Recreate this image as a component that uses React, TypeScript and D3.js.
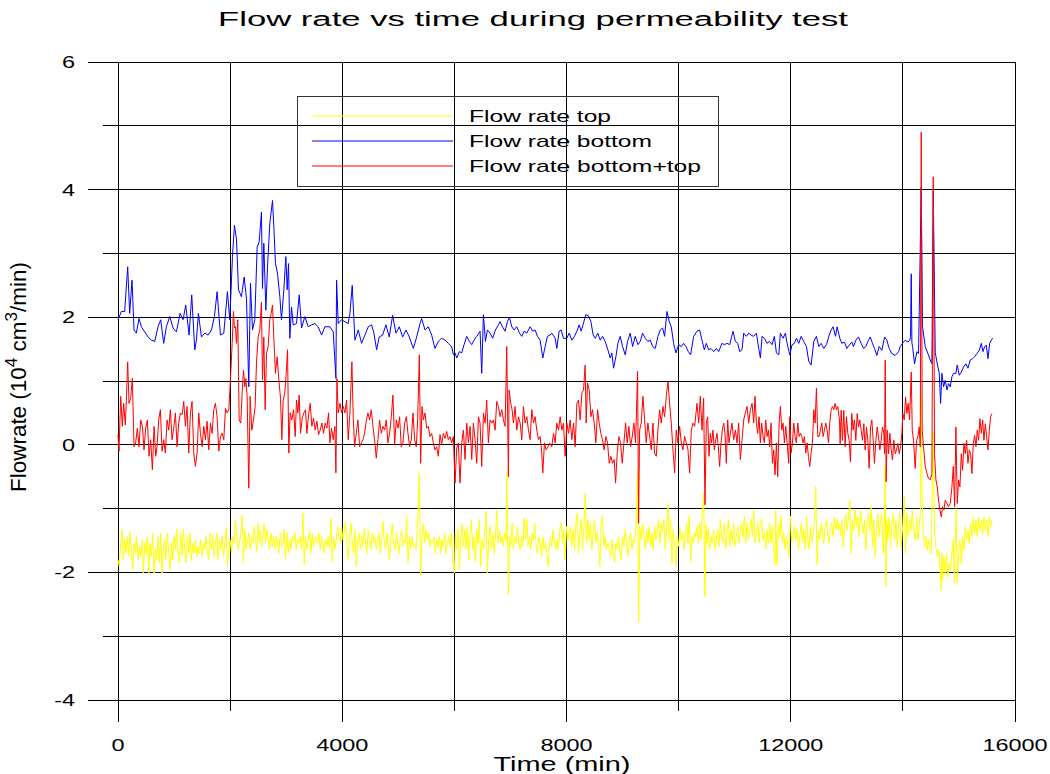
import React from "react";
import * as d3 from "d3";

// ---------- data: [time (min), flow rate (10^4 cm^3/min)] ----------
const topFlow: [number, number][] = [
[0,-1.80],[24,-1.91],[48,-1.54],[71,-1.33],[95,-1.80],[119,-1.49],[143,-1.70],[167,-1.44],[190,-1.75],[214,-1.36],[238,-1.64],[262,-1.96],[286,-1.54],[310,-1.70],[333,-1.44],[357,-1.80],[381,-1.59],[405,-1.75],[429,-1.49],[452,-2.01],[476,-1.54],[500,-1.70],[524,-1.44],[548,-2.01],[571,-1.54],[595,-1.75],[619,-1.38],[643,-2.01],[667,-1.64],[690,-1.80],[714,-1.44],[738,-1.85],[762,-1.38],[786,-2.01],[809,-1.64],[833,-1.49],[857,-1.80],[881,-1.38],[905,-1.70],[929,-1.96],[952,-1.54],[976,-1.80],[1000,-1.44],[1024,-1.64],[1048,-1.31],[1071,-1.70],[1095,-1.85],[1119,-1.38],[1143,-1.75],[1167,-1.33],[1190,-1.64],[1214,-1.85],[1238,-1.44],[1262,-1.70],[1286,-1.38],[1309,-1.80],[1333,-1.54],[1357,-1.70],[1381,-1.49],[1405,-1.75],[1429,-1.59],[1452,-1.70],[1476,-1.49],[1500,-1.75],[1524,-1.54],[1548,-1.64],[1571,-1.44],[1595,-1.70],[1619,-1.80],[1643,-1.38],[1667,-1.64],[1690,-1.44],[1714,-1.75],[1738,-1.54],[1762,-1.38],[1786,-1.80],[1809,-1.49],[1833,-1.64],[1857,-1.44],[1881,-1.75],[1905,-1.54],[1929,-1.31],[1952,-1.91],[1976,-1.64],[2000,-1.49],[2024,-1.70],[2048,-1.44],[2071,-1.54],[2095,-1.17],[2119,-1.44],[2143,-1.64],[2167,-1.54],[2190,-1.38],[2214,-1.10],[2238,-1.85],[2262,-1.33],[2286,-1.64],[2309,-1.49],[2333,-1.38],[2357,-1.64],[2381,-1.44],[2405,-1.54],[2429,-1.28],[2452,-1.49],[2476,-1.67],[2500,-1.23],[2524,-1.54],
[2536,-1.33],[2560,-1.59],[2583,-1.44],[2607,-1.23],[2631,-1.54],[2655,-1.33],[2679,-1.49],[2702,-1.64],[2726,-1.38],[2750,-1.59],[2774,-1.44],[2798,-1.64],[2821,-1.44],[2845,-1.54],[2869,-1.70],[2893,-1.38],[2917,-1.59],[2941,-1.54],[2964,-1.33],[2988,-1.80],[3012,-1.38],[3036,-1.70],[3060,-1.49],[3083,-1.64],[3107,-1.44],[3131,-1.54],[3155,-1.38],[3179,-1.64],[3202,-1.49],[3226,-1.54],[3250,-1.44],[3274,-1.64],[3298,-1.07],[3322,-1.88],[3345,-1.44],[3369,-1.64],[3393,-1.49],[3417,-1.33],[3441,-1.70],[3464,-1.38],[3488,-1.59],[3512,-1.49],[3536,-1.44],[3560,-1.54],[3583,-1.38],[3607,-1.64],[3631,-1.44],[3655,-1.54],[3679,-1.70],[3702,-1.49],[3726,-1.59],[3750,-1.44],[3774,-1.62],[3798,-1.15],[3821,-1.83],[3845,-1.44],[3869,-1.64],[3893,-1.49],[3917,-1.28],[3941,-1.44],[3964,-1.54],[3988,-1.28],[4012,-1.49],[4036,-1.38],[4060,-1.20],[4083,-1.54],[4107,-1.80],[4131,-1.44],[4155,-1.23],[4179,-1.54],[4202,-1.70],[4226,-1.33],[4250,-1.91],[4274,-1.49],[4298,-1.38],[4321,-1.64],[4345,-1.44],[4369,-1.59],[4393,-1.31],[4417,-1.54],[4440,-1.70],[4464,-1.33],[4488,-1.49],[4512,-1.64],[4536,-1.38],[4560,-1.54],[4583,-1.44],[4607,-1.64],[4631,-1.54],[4655,-1.38],[4679,-1.70],[4702,-1.49],[4726,-1.20],[4750,-1.54],[4774,-1.64],[4798,-1.38],[4821,-1.59],[4845,-1.80],[4869,-1.44],[4893,-1.23],[4917,-1.54],[4941,-1.64],[4964,-1.38],[4988,-1.54],[5012,-1.70],[5036,-1.44],[5060,-1.33],[5083,-1.59],[5107,-1.49],
[5125,-1.54],[5149,-1.12],[5173,-1.85],[5196,-1.44],[5220,-1.64],[5244,-1.44],[5268,-1.59],[5292,-1.54],[5315,-1.64],[5339,-1.33],[5375,-0.44],[5398,-2.04],[5422,-1.44],[5446,-1.23],[5470,-1.54],[5494,-1.33],[5518,-1.49],[5542,-1.38],[5565,-1.59],[5589,-1.49],[5613,-1.54],[5637,-1.44],[5661,-1.70],[5684,-1.49],[5708,-1.59],[5732,-1.44],[5756,-1.70],[5780,-1.49],[5803,-1.59],[5827,-1.38],[5851,-1.70],[5875,-1.54],[5899,-1.44],[5923,-1.59],[5946,-1.38],[5970,-1.80],[6000,-2.01],[6018,-1.38],[6042,-1.64],[6065,-1.33],[6089,-1.96],[6113,-1.44],[6137,-1.23],[6161,-1.59],[6185,-1.33],[6208,-1.64],[6232,-1.28],[6256,-1.80],[6280,-1.38],[6304,-1.17],[6327,-1.64],[6351,-1.44],[6375,-1.85],[6399,-1.33],[6423,-1.54],[6446,-1.17],[6470,-1.91],[6494,-1.49],[6518,-1.64],[6542,-1.38],[6565,-1.04],[6589,-2.01],[6613,-1.49],[6637,-1.28],[6661,-1.64],[6684,-1.38],[6708,-1.70],[6732,-1.44],[6756,-1.02],[6780,-1.54],[6804,-1.33],[6827,-1.54],[6851,-1.44],[6875,-1.59],[6899,-1.38],[6923,-1.49],[6934,-0.42],[6964,-2.35],[6982,-1.44],[7006,-1.59],[7030,-1.23],[7054,-1.64],[7077,-1.44],[7101,-1.54],[7125,-1.28],[7149,-1.54],[7173,-1.64],[7196,-1.44],[7220,-1.59],[7244,-1.15],[7268,-1.49],[7292,-1.17],[7315,-1.59],[7339,-1.44],[7363,-1.64],[7387,-1.38],[7411,-1.49],[7435,-1.23],[7458,-1.59],[7482,-1.70],[7506,-1.44],[7530,-1.54],[7554,-1.75],[7577,-1.44],[7601,-1.64],[7625,-1.54],[7649,-1.70],[7673,-1.91],[7696,-1.54],
[7714,-1.44],[7738,-1.59],[7762,-1.33],[7786,-1.54],[7809,-1.64],[7833,-1.49],[7857,-1.64],[7881,-1.33],[7905,-1.23],[7929,-1.54],[7952,-1.33],[7976,-1.80],[8000,-1.28],[8024,-1.49],[8048,-1.38],[8071,-1.28],[8095,-1.59],[8119,-1.33],[8143,-1.64],[8167,-1.23],[8190,-1.07],[8214,-1.70],[8238,-1.38],[8262,-1.17],[8286,-1.64],[8309,-1.33],[8333,-0.76],[8357,-1.54],[8381,-1.17],[8405,-1.49],[8428,-1.23],[8452,-1.64],[8476,-1.33],[8500,-1.17],[8524,-1.54],[8548,-1.38],[8571,-1.59],[8595,-1.91],[8619,-1.23],[8643,-1.12],[8667,-1.59],[8690,-1.44],[8714,-1.64],[8738,-1.54],[8762,-1.64],[8786,-1.75],[8809,-1.49],[8833,-1.70],[8857,-1.85],[8881,-1.54],[8905,-1.64],[8928,-1.44],[8952,-1.70],[8976,-1.80],[9000,-1.44],[9024,-1.59],[9047,-1.33],[9071,-1.54],[9095,-1.75],[9119,-1.49],[9143,-1.38],[9167,-1.64],[9190,-1.49],[9214,-1.54],[9238,-1.33],[9268,-0.39],[9286,-2.77],[9309,-1.28],[9333,-1.49],[9357,-1.23],[9381,-1.44],[9405,-1.64],[9428,-1.33],[9452,-1.54],[9476,-1.28],[9500,-1.59],[9524,-1.38],[9547,-1.64],[9571,-1.28],[9595,-1.49],[9619,-1.33],[9643,-1.17],[9666,-1.54],[9690,-1.23],[9714,-1.38],[9738,-1.17],[9762,-1.64],[9785,-1.33],[9809,-0.94],[9833,-1.49],[9857,-1.17],[9881,-1.85],[9905,-1.33],[9928,-1.54],[9952,-1.91],[9976,-1.44],[10000,-1.59],[10024,-1.28],[10047,-1.49],[10071,-1.38],[10095,-1.64],[10119,-1.44],[10143,-1.23],[10166,-1.54],[10190,-1.10],[10214,-1.83],[10238,-1.44],[10262,-1.54],[10286,-1.38],
[10304,-1.44],[10328,-1.28],[10351,-1.54],[10375,-1.23],[10399,-1.49],[10423,-1.02],[10447,-0.76],[10470,-2.38],[10488,-1.23],[10506,-1.54],[10530,-1.33],[10554,-1.64],[10578,-1.44],[10601,-1.54],[10625,-1.33],[10649,-1.64],[10673,-1.49],[10697,-1.33],[10720,-1.59],[10744,-1.17],[10768,-1.44],[10792,-1.54],[10816,-1.23],[10839,-1.64],[10863,-1.38],[10887,-1.17],[10911,-1.59],[10935,-1.33],[10958,-1.54],[10982,-1.23],[11006,-1.59],[11030,-1.44],[11054,-1.28],[11077,-1.54],[11101,-1.38],[11125,-1.23],[11149,-1.44],[11173,-1.12],[11197,-1.54],[11220,-1.23],[11244,-1.49],[11268,-1.33],[11292,-1.17],[11316,-1.44],[11339,-1.02],[11363,-1.54],[11387,-1.38],[11411,-1.23],[11435,-1.54],[11458,-1.28],[11482,-1.15],[11506,-1.49],[11530,-1.38],[11554,-1.64],[11577,-1.33],[11601,-1.54],[11625,-1.23],[11649,-1.54],[11673,-1.28],[11696,-1.64],[11720,-1.88],[11732,-1.02],[11756,-1.88],[11780,-1.23],[11804,-1.44],[11827,-1.12],[11851,-1.54],[11875,-1.38],[11899,-1.64],[11923,-1.44],[11946,-1.59],[11970,-1.75],[11994,-1.12],[12018,-1.54],[12042,-1.44],[12065,-1.28],[12089,-1.49],[12113,-1.33],[12137,-1.64],[12161,-1.44],[12185,-1.23],[12208,-1.54],[12232,-1.33],[12256,-1.64],[12280,-1.12],[12304,-1.49],[12327,-1.64],[12351,-1.28],[12375,-1.54],[12399,-1.38],[12423,-1.23],[12446,-0.65],[12470,-1.88],[12494,-1.33],[12518,-1.49],[12542,-1.23],[12565,-1.44],[12589,-1.54],[12613,-1.28],[12637,-1.17],[12661,-1.44],[12684,-1.54],[12708,-1.28],[12732,-1.23],[12756,-1.44],[12780,-1.12],[12804,-1.33],[12827,-1.17],[12851,-1.33],[12875,-1.23],
[12887,-1.44],[12911,-1.18],[12935,-1.60],[12958,-1.23],[12982,-1.08],[13006,-1.34],[13030,-1.13],[13054,-0.87],[13077,-1.70],[13101,-1.18],[13125,-1.34],[13149,-1.02],[13173,-1.28],[13196,-1.13],[13220,-1.44],[13244,-1.02],[13268,-1.23],[13292,-1.39],[13316,-1.18],[13339,-1.65],[13363,-1.23],[13387,-1.08],[13411,-1.34],[13435,-0.97],[13458,-1.60],[13482,-1.18],[13506,-1.75],[13530,-1.28],[13554,-1.08],[13577,-1.44],[13601,-1.18],[13625,-1.08],[13649,-1.70],[13673,-1.13],[13685,-0.34],[13696,-2.22],[13714,-1.18],[13732,-1.49],[13756,-1.13],[13780,-1.60],[13804,-1.23],[13827,-1.08],[13851,-1.49],[13875,-1.18],[13899,-1.60],[13923,-1.28],[13946,-1.08],[13970,-1.60],[14000,-1.23],[14024,-0.81],[14048,-1.70],[14071,-1.08],[14095,-1.44],[14119,-1.18],[14143,-1.34],[14167,-1.02],[14190,-1.28],[14220,-1.49],[14244,-1.13],[14268,-1.49],[14292,-1.28],[14310,-1.08],[14327,0.83],[14345,-0.92],[14363,-1.34],[14387,-1.60],[14411,-1.44],[14435,-1.65],[14458,-1.49],[14482,-1.65],[14506,-1.70],[14530,-0.45],[14542,0.19],[14565,-1.39],[14589,-1.60],[14613,-1.75],[14637,-1.65],[14661,-1.91],[14685,-2.28],[14696,-1.70],[14708,-2.12],[14732,-1.75],[14756,-2.02],[14780,-1.70],[14804,-2.07],[14827,-1.86],[14851,-1.96],[14875,-1.70],[14899,-1.49],[14917,-2.17],[14934,-1.60],[14952,-1.00],[14970,-2.17],[14994,-1.70],[15018,-1.49],[15042,-1.86],[15065,-1.44],[15089,-1.65],[15113,-1.28],[15137,-1.49],[15161,-1.34],[15185,-1.55],[15208,-1.23],[15232,-1.44],[15256,-1.13],[15280,-1.39],[15304,-1.18],[15327,-1.44],[15351,-1.13],[15375,-1.34],[15399,-1.18],[15423,-1.39],[15446,-1.13],[15470,-1.34],[15494,-1.18],[15518,-1.44],[15542,-1.13],[15565,-1.28],[15589,-1.18]
];

const bottomFlow: [number, number][] = [
[0,1.96],[60,2.09],[119,2.09],[173,2.79],[208,2.06],[250,2.58],[286,1.80],[327,1.75],[375,1.98],[417,1.85],[476,1.77],[536,1.69],[595,1.64],[655,1.62],[714,1.85],[762,1.96],[815,1.59],[863,1.85],[923,2.01],[982,1.83],[1042,1.77],[1107,2.06],[1161,1.96],[1208,2.19],[1268,1.72],[1315,2.35],[1369,1.49],[1399,1.64],[1434,2.06],[1488,1.69],[1548,1.75],[1607,1.72],[1667,1.80],[1720,2.01],[1768,2.40],[1827,1.72],[1887,1.75],[1952,2.40],[1994,1.96],[2042,2.95],[2077,3.44],[2113,3.23],[2149,2.43],[2202,2.32],[2250,2.63],[2292,2.29],[2333,0.91],[2363,2.53],[2399,1.80],[2440,1.96],[2482,3.10],[2518,3.18],[2559,3.65],[2577,2.45],[2601,3.16],[2637,2.11],[2667,2.79],[2708,3.47],[2756,3.83],[2780,3.42],[2809,2.84],[2845,2.69],[2887,2.32],[2916,1.96],[2958,2.43],[2994,2.95],[3018,2.43],[3042,2.84],[3065,1.67],[3095,2.16],[3125,1.88],[3184,1.90],[3232,2.35],[3274,1.83],[3333,2.01],[3393,1.85],[3452,1.88],[3512,1.90],[3571,1.85],[3631,1.72],[3690,1.85],[3780,1.85],[3839,1.77],[3887,1.04],[3899,2.58],[3928,1.90],[3988,1.96],[4047,1.93],[4107,1.90],[4137,2.06],[4178,2.50],[4226,1.64],[4285,1.80],[4345,1.59],[4404,1.72],[4464,1.85],[4524,1.88],[4565,1.75],[4613,1.49],[4660,1.69],[4720,1.72],[4779,1.88],[4839,1.69],[4898,2.03],[4958,1.75],[5017,1.85],[5077,1.69],[5137,1.80],[5196,1.69],[5268,1.51],[5327,1.69],[5387,1.90],[5416,1.98],[5476,1.80],[5535,1.85],[5595,1.72],[5654,1.51],[5714,1.62],[5773,1.67],[5833,1.64],[5893,1.59],
[5911,1.57],[5952,1.54],[5982,1.41],[6012,1.44],[6042,1.36],[6089,1.46],[6131,1.44],[6173,1.57],[6220,1.70],[6268,1.62],[6310,1.57],[6351,1.64],[6399,1.70],[6458,1.78],[6488,1.12],[6518,2.04],[6554,1.62],[6589,1.80],[6637,1.75],[6684,1.67],[6732,1.80],[6786,1.88],[6815,1.93],[6857,1.85],[6905,1.78],[6946,1.93],[6982,2.00],[7024,1.85],[7065,1.80],[7113,1.85],[7161,1.75],[7202,1.70],[7244,1.78],[7292,1.75],[7351,1.85],[7399,1.78],[7440,1.80],[7482,1.70],[7530,1.64],[7577,1.36],[7619,1.54],[7661,1.70],[7708,1.72],
[7738,1.75],[7798,1.67],[7827,1.51],[7869,1.78],[7905,1.80],[7946,1.67],[8006,1.67],[8048,1.75],[8095,1.64],[8143,1.70],[8185,1.78],[8226,1.88],[8262,1.78],[8304,1.91],[8345,2.04],[8393,2.02],[8435,1.93],[8476,1.72],[8512,1.67],[8560,1.75],[8601,1.64],[8643,1.70],[8690,1.62],[8738,1.49],[8780,1.36],[8809,1.44],[8839,1.20],[8881,1.38],[8917,1.59],[8958,1.70],[9000,1.54],[9048,1.41],[9089,1.62],[9137,1.75],[9179,1.54],[9226,1.70],[9274,1.57],[9315,1.62],[9357,1.75],[9405,1.67],[9452,1.62],[9494,1.64],[9536,1.54],[9583,1.51],[9631,1.70],[9673,1.80],[9714,1.83],[9750,1.70],[9792,2.09],[9833,1.93],[9869,1.85],[9911,1.59],[9952,1.44],[10000,1.57],[10048,1.54],[10089,1.59],[10131,1.54],[10173,1.46],[10214,1.41],[10268,1.70],
[10328,1.78],[10375,1.80],[10417,1.64],[10458,1.49],[10494,1.59],[10536,1.49],[10577,1.51],[10625,1.46],[10673,1.51],[10714,1.46],[10774,1.59],[10816,1.57],[10863,1.59],[10911,1.57],[10970,1.78],[11012,1.62],[11054,1.59],[11089,1.46],[11131,1.49],[11161,1.75],[11208,1.70],[11250,1.75],[11292,1.72],[11339,1.70],[11387,1.75],[11429,1.51],[11458,1.36],[11488,1.70],[11530,1.67],[11577,1.59],[11619,1.62],[11667,1.57],[11708,1.70],[11744,1.44],[11786,1.41],[11815,1.75],[11863,1.67],[11905,1.75],[11935,1.59],[11982,1.41],[12024,1.57],[12065,1.59],[12101,1.67],[12143,1.59],[12185,1.70],[12232,1.62],[12280,1.54],[12321,1.31],[12363,1.25],[12411,1.62],[12458,1.70],[12500,1.54],[12542,1.59],[12589,1.51],[12637,1.57],[12679,1.70],[12720,1.80],[12756,1.85],[12798,1.70],[12827,1.85],[12875,1.67],
[12911,1.59],[12958,1.61],[13000,1.51],[13042,1.56],[13089,1.61],[13119,1.54],[13161,1.64],[13208,1.69],[13256,1.59],[13298,1.51],[13339,1.54],[13387,1.64],[13417,1.69],[13458,1.59],[13494,1.51],[13536,1.40],[13577,1.54],[13625,1.48],[13673,1.69],[13714,1.64],[13756,1.51],[13804,1.43],[13863,1.40],[13923,1.46],[13952,1.54],[13994,1.59],[14042,1.64],[14089,1.61],[14125,1.64],[14137,1.70],[14149,2.68],[14161,1.60],[14173,1.54],[14208,1.27],[14250,1.46],[14280,1.43],[14327,4.04],[14351,1.85],[14399,1.54],[14446,1.43],[14488,1.33],[14518,1.27],[14542,3.98],[14577,1.45],[14607,1.30],[14649,1.12],[14673,0.65],[14696,1.12],[14726,0.91],[14756,1.01],[14786,0.86],[14815,0.96],[14845,0.91],[14875,1.07],[14905,1.12],[14946,1.12],[14970,1.25],[15006,1.09],[15042,1.14],[15083,1.22],[15125,1.27],[15161,1.20],[15202,1.33],[15244,1.35],[15280,1.38],[15321,1.43],[15363,1.48],[15399,1.59],[15429,1.46],[15458,1.54],[15488,1.56],[15518,1.35],[15548,1.59],[15577,1.64],[15601,1.67]
];

const sumFlow: [number, number][] = [
[0,0.16],[18,-0.10],[48,0.76],[77,0.29],[101,0.65],[131,0.31],[149,0.70],[173,1.30],[196,0.65],[226,0.73],[256,1.04],[286,-0.03],[315,0.03],[345,0.26],[375,-0.03],[405,0.39],[435,0.29],[464,-0.08],[494,0.26],[524,0.39],[554,-0.18],[583,0.08],[613,-0.39],[643,0.29],[673,-0.18],[696,-0.03],[726,0.39],[756,0.55],[786,-0.10],[815,0.08],[845,-0.13],[875,0.39],[905,0.23],[934,0.55],[964,0.08],[994,0.26],[1024,0.50],[1054,-0.03],[1083,0.34],[1113,0.50],[1143,0.47],[1173,0.68],[1202,0.29],[1232,0.60],[1262,-0.13],[1292,0.50],[1321,0.68],[1351,-0.13],[1381,-0.34],[1411,-0.13],[1440,0.50],[1470,0.18],[1500,-0.03],[1530,0.29],[1559,0.08],[1589,0.37],[1619,-0.08],[1649,0.34],[1678,0.18],[1708,0.55],[1738,0.65],[1768,0.44],[1798,-0.10],[1827,0.13],[1857,0.18],[1887,0.08],[1917,0.57],[1946,0.50],[1976,0.55],[2006,1.02],[2036,1.59],[2059,2.09],[2077,1.83],[2095,1.85],[2113,1.59],[2137,1.96],[2161,0.39],[2190,0.34],[2214,0.81],[2238,1.17],[2262,0.91],[2280,1.04],[2303,0.76],[2333,-0.68],[2357,0.76],[2387,0.23],[2417,0.39],[2446,0.60],[2470,1.28],[2500,1.69],[2530,1.80],[2559,2.24],[2577,1.02],[2601,1.69],[2625,0.55],[2649,1.43],[2678,1.54],[2708,1.96],[2732,2.06],[2756,2.19],[2780,1.67],[2809,1.12],[2839,1.38],[2869,1.02],[2899,0.73],[2922,0.08],[2946,0.70],[2976,0.81],[3000,1.12],[3024,1.49],[3047,-0.13],[3071,0.50],[3101,0.39],[3131,0.55],[3161,0.13],[3184,0.70],[3208,0.50],[3232,0.78],[3256,0.18],[3286,0.42],[3315,0.50],[3345,0.55],[3369,0.18],[3399,0.47],[3428,0.65],[3458,0.29],[3488,0.42],[3518,0.23],[3547,0.37],[3577,0.16],[3607,0.23],[3637,0.34],[3666,0.18],[3696,0.34],[3726,0.26],[3756,0.50],[3780,0.03],[3809,0.26],[3839,0.08],[3869,0.29],[3887,-0.44],[3905,1.04],[3928,0.50],[3958,0.65],[3988,0.50],[4018,0.60],[4047,0.50],[4077,0.70],[4107,0.08],[4137,0.50],[4172,1.30],[4196,0.42],[4220,-0.03],[4250,0.18],[4280,0.39],[4309,-0.03],[4339,0.03],[4369,0.08],[4399,0.18],[4428,0.37],[4458,0.50],[4488,0.39],[4518,0.55],[4547,0.29],[4577,0.08],[4607,-0.21],[4637,0.08],[4666,0.39],[4696,0.18],[4726,0.29],[4756,0.23],[4785,0.39],[4815,0.03],[4845,0.18],[4875,0.44],[4904,0.78],[4934,0.00],[4964,0.39],[4994,0.26],[5023,0.44],[5053,-0.03],[5083,0.03],[5113,0.34],[5143,0.44],[5172,0.18],[5202,-0.03],[5232,0.08],[5262,0.50],[5291,0.08],[5321,-0.03],[5345,0.39],[5375,1.41],[5398,-0.29],[5422,0.60],[5446,0.39],[5476,0.50],[5506,0.26],[5535,0.29],[5565,0.13],[5595,0.18],[5625,0.03],[5654,-0.08],[5684,-0.03],[5714,-0.18],[5744,0.16],[5773,0.00],[5803,0.18],[5833,0.10],[5863,0.21],[5892,0.08],
[5923,0.13],[5952,0.03],[5982,0.13],[6012,-0.60],[6042,-0.05],[6071,0.03],[6101,-0.60],[6131,0.03],[6161,0.23],[6190,-0.23],[6220,0.34],[6250,0.03],[6280,0.29],[6310,-0.23],[6339,0.34],[6369,0.08],[6399,-0.29],[6429,0.44],[6458,0.34],[6488,-0.34],[6518,0.50],[6548,0.34],[6577,0.70],[6607,0.03],[6637,0.39],[6667,0.34],[6696,0.39],[6726,0.23],[6756,0.68],[6786,0.60],[6815,0.44],[6845,0.55],[6875,0.39],[6905,0.29],[6934,1.54],[6964,-0.50],[6976,0.86],[7006,0.65],[7030,0.55],[7054,0.34],[7083,0.60],[7113,0.23],[7143,0.44],[7173,0.34],[7202,0.08],[7232,0.60],[7262,0.34],[7292,0.44],[7321,0.23],[7351,0.08],[7381,0.55],[7411,0.34],[7440,0.44],[7470,0.23],[7500,0.08],[7530,0.13],[7559,-0.13],[7577,-0.44],[7607,0.03],[7637,-0.08],[7667,-0.03],[7696,0.03],
[7738,-0.03],[7768,0.18],[7798,0.03],[7827,0.34],[7857,0.23],[7887,0.44],[7917,0.23],[7946,0.34],[7976,-0.18],[8006,0.34],[8036,0.18],[8065,0.39],[8095,0.08],[8125,0.34],[8155,-0.03],[8185,0.65],[8214,0.70],[8244,0.39],[8274,0.81],[8304,0.86],[8333,1.25],[8351,0.34],[8375,0.97],[8405,0.86],[8434,0.44],[8464,0.55],[8494,0.34],[8524,0.03],[8554,0.55],[8583,0.34],[8613,0.18],[8643,0.08],[8673,-0.08],[8702,0.13],[8732,0.03],[8762,-0.29],[8792,-0.18],[8821,-0.29],[8851,-0.23],[8875,-0.60],[8905,-0.13],[8934,0.13],[8964,0.03],[8994,-0.29],[9024,0.03],[9054,0.34],[9083,0.03],[9113,0.29],[9143,-0.03],[9173,0.13],[9202,0.34],[9232,0.03],[9268,1.15],[9286,-1.23],[9304,0.23],[9333,0.34],[9363,0.76],[9393,0.39],[9423,0.03],[9452,0.34],[9482,0.13],[9512,-0.08],[9542,0.34],[9571,-0.13],[9601,-0.18],[9631,0.23],[9661,0.55],[9690,0.34],[9720,0.60],[9750,0.44],[9780,0.76],[9810,0.99],[9839,0.65],[9869,0.34],[9899,-0.08],[9929,-0.44],[9958,0.23],[9988,0.03],[10018,0.29],[10048,0.03],[10077,-0.08],[10107,0.13],[10137,0.03],[10167,-0.08],[10196,-0.44],[10226,0.23],[10256,0.34],[10286,0.29],
[10328,0.65],[10357,0.34],[10387,0.76],[10417,0.23],[10446,0.73],[10470,-0.94],[10494,0.34],[10518,0.44],[10542,-0.18],[10566,0.18],[10589,0.03],[10613,0.23],[10637,-0.08],[10661,0.08],[10685,0.18],[10708,-0.03],[10732,-0.34],[10756,0.03],[10780,0.23],[10804,0.34],[10827,0.18],[10851,-0.29],[10875,0.39],[10899,0.03],[10923,0.18],[10952,0.34],[10982,0.08],[11012,0.23],[11042,0.03],[11071,0.34],[11101,-0.23],[11131,0.08],[11161,0.39],[11190,0.50],[11220,0.60],[11250,0.34],[11280,0.55],[11310,0.65],[11339,0.34],[11363,0.76],[11387,0.34],[11411,0.18],[11435,0.44],[11458,0.03],[11482,0.34],[11506,0.13],[11530,0.03],[11554,0.39],[11577,0.13],[11601,0.23],[11625,-0.03],[11649,0.34],[11673,-0.29],[11696,-0.08],[11720,-0.47],[11744,0.03],[11768,-0.50],[11792,0.34],[11815,0.60],[11839,0.23],[11863,0.34],[11887,0.03],[11911,0.29],[11935,0.03],[11964,-0.29],[11982,0.44],[12006,-0.13],[12030,0.03],[12054,0.34],[12077,0.13],[12101,0.03],[12125,0.34],[12149,0.13],[12173,0.18],[12196,0.13],[12220,0.03],[12244,0.13],[12268,-0.13],[12292,0.03],[12315,-0.18],[12339,-0.34],[12363,-0.13],[12387,0.03],[12411,0.55],[12435,0.34],[12458,0.89],[12482,0.13],[12506,0.13],[12530,0.23],[12554,0.34],[12577,0.13],[12601,0.23],[12625,0.34],[12649,0.23],[12673,0.03],[12696,0.34],[12720,0.55],[12744,0.60],[12768,0.55],[12792,0.65],[12815,0.55],[12839,0.60],[12869,0.39],
[12881,0.02],[12899,0.54],[12923,0.07],[12946,0.54],[12970,-0.03],[12994,0.44],[13018,0.18],[13042,0.07],[13065,-0.27],[13089,0.49],[13113,0.23],[13137,0.39],[13161,0.07],[13185,0.49],[13208,0.28],[13232,0.39],[13256,0.23],[13280,0.07],[13304,0.33],[13327,-0.08],[13351,0.28],[13375,0.07],[13399,-0.37],[13423,0.28],[13446,0.39],[13470,0.07],[13494,-0.29],[13518,0.07],[13542,0.28],[13565,0.13],[13589,-0.08],[13613,0.07],[13637,0.28],[13661,0.18],[13673,-0.14],[13685,1.33],[13702,-0.58],[13720,0.23],[13744,-0.14],[13768,0.18],[13792,-0.08],[13815,-0.24],[13839,0.07],[13863,-0.14],[13887,-0.08],[13911,0.02],[13935,-0.14],[13958,-0.03],[13982,0.18],[14000,0.49],[14024,0.39],[14048,0.75],[14071,0.49],[14095,0.65],[14119,0.39],[14149,1.14],[14167,0.23],[14190,0.07],[14220,-0.37],[14244,0.07],[14268,0.13],[14292,0.28],[14310,-0.03],[14327,4.90],[14345,0.23],[14369,-0.03],[14399,-0.34],[14429,-0.45],[14458,-0.53],[14488,-0.55],[14518,-0.45],[14542,4.20],[14565,-0.14],[14589,-0.55],[14613,-0.66],[14637,-0.87],[14661,-1.02],[14685,-1.13],[14708,-0.97],[14732,-1.02],[14756,-0.87],[14786,-0.92],[14815,-0.97],[14845,-0.92],[14875,-0.66],[14899,-0.34],[14923,-0.97],[14946,0.28],[14970,-0.92],[14994,-0.55],[15018,-0.66],[15042,-0.14],[15065,-0.40],[15089,0.02],[15113,-0.14],[15137,0.07],[15161,-0.29],[15185,-0.08],[15208,-0.14],[15232,-0.45],[15256,0.02],[15280,0.15],[15304,-0.03],[15327,0.23],[15351,0.07],[15375,0.41],[15399,0.18],[15423,0.39],[15446,0.07],[15470,0.33],[15494,0.13],[15518,-0.08],[15542,0.23],[15565,0.44],[15589,0.49]
];

const xMajorTicks = [0, 4000, 8000, 12000, 16000];
const xMinorTicks = [2000, 6000, 10000, 14000];
const yMajorTicks = [-4, -2, 0, 2, 4, 6];
const yMinorTicks = [-3, -1, 1, 3, 5];

const seriesNames = ["Flow rate top", "Flow rate bottom", "Flow rate bottom+top"];
const seriesColors = ["#ffff00", "#0000ff", "#ff0000"];

const FONT = "'Liberation Sans', Arial, sans-serif";

export default function App() {
  const x = d3.scaleLinear().domain([0, 16000]).range([118, 1015]);
  const y = d3.scaleLinear().domain([-4, 6]).range([700, 62]);
  const line = d3
    .line<[number, number]>()
    .x((d) => x(d[0]))
    .y((d) => y(d[1]));

  const series = [topFlow, bottomFlow, sumFlow];
  const tickSx = 1.38;

  return (
    <svg
      width={1050}
      height={774}
      style={{ position: "absolute", left: 0, top: 0, background: "#fff" }}
      fontFamily={FONT}
    >
      {/* title */}
      <text x={533} y={26} fontSize={20} textAnchor="middle" textLength={630} lengthAdjust="spacingAndGlyphs" fill="#000">
        Flow rate vs time during permeability test
      </text>

      {/* grid */}
      <g stroke="#000" strokeWidth={1} shapeRendering="crispEdges">
        {yMajorTicks.map((v) => (
          <line key={"ym" + v} x1={88} x2={x(16000)} y1={y(v)} y2={y(v)} />
        ))}
        {yMinorTicks.map((v) => (
          <line key={"yn" + v} x1={103} x2={x(16000)} y1={y(v)} y2={y(v)} />
        ))}
        {xMajorTicks.map((v) => (
          <line key={"xm" + v} x1={x(v)} x2={x(v)} y1={y(6)} y2={722} />
        ))}
        {xMinorTicks.map((v) => (
          <line key={"xn" + v} x1={x(v)} x2={x(v)} y1={y(6)} y2={711} />
        ))}
      </g>

      {/* y tick labels */}
      {yMajorTicks.map((v) => (
        <text key={"yl" + v} transform={`translate(75,${y(v) + 6}) scale(${tickSx},1)`} fontSize={17} textAnchor="end" fill="#000">
          {v}
        </text>
      ))}
      {/* x tick labels */}
      {xMajorTicks.map((v) => (
        <text key={"xl" + v} transform={`translate(${x(v)},751) scale(${tickSx},1)`} fontSize={17} textAnchor="middle" fill="#000">
          {v}
        </text>
      ))}

      {/* axis titles */}
      <text x={562} y={771} fontSize={20} textAnchor="middle" textLength={137} lengthAdjust="spacingAndGlyphs" fill="#000">
        Time (min)
      </text>
      <g transform="translate(26,377) scale(1.3,1) rotate(-90)">
        <text x={0} y={0} fontSize={17} textAnchor="middle" textLength={230} lengthAdjust="spacingAndGlyphs" fill="#000">
          Flowrate (10<tspan fontSize={13} dy={-7}>4</tspan>
          <tspan dy={7}> cm</tspan>
          <tspan fontSize={13} dy={-7}>3</tspan>
          <tspan dy={7}>/min)</tspan>
        </text>
      </g>

      {/* data lines */}
      {series.map((s, i) => (
        <path key={"s" + i} d={line(s) || ""} fill="none" stroke={seriesColors[i]} strokeWidth={1} />
      ))}

      {/* legend */}
      <rect x={297} y={96} width={421} height={90} fill="none" stroke="#333" strokeWidth={1} shapeRendering="crispEdges" />
      {seriesNames.map((name, i) => {
        const ly = 116 + i * 25;
        const widths = [142, 183, 232];
        return (
          <g key={"lg" + i}>
            <line x1={312} x2={453} y1={ly} y2={ly} stroke={seriesColors[i]} strokeWidth={1.2} />
            <text x={469} y={ly + 6} fontSize={17} textLength={widths[i]} lengthAdjust="spacingAndGlyphs" fill="#000">
              {name}
            </text>
          </g>
        );
      })}
    </svg>
  );
}
